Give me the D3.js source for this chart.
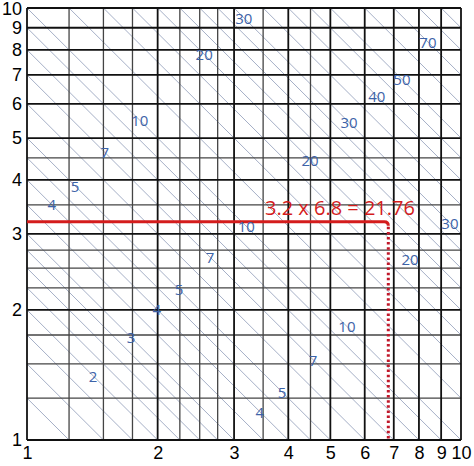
<!DOCTYPE html>
<html>
<head>
<meta charset="utf-8">
<script src="https://cdn.jsdelivr.net/npm/d3@7"></script>
<style>
  body { margin: 0; background: #fff; }
  svg { display: block; }
</style>
</head>
<body>
<script>
// log-log multiplication chart: diagonals are lines of constant product x*y
var majorTicks = [1, 2, 3, 4, 5, 6, 7, 8, 9, 10];
var minorTicks = [1.25, 1.5, 1.75, 2.25, 2.5, 2.75, 3.5, 4.5];
var baseProducts = [1.25, 1.5, 1.75, 2, 2.25, 2.5, 2.75, 3, 3.5, 4, 4.5, 5, 6, 7, 8, 9, 10];
var products = baseProducts.concat(baseProducts.map(function (d) { return d * 10; }));

// product labels: value and the x where it sits on its diagonal
var labelValues = [2, 3, 4, 5, 7, 10, 20, 30, 40, 50, 70, 4, 5, 7, 10, 20, 30, 20, 30, 4, 5, 7, 10];
var labelXs = [1.42, 1.736, 1.99, 2.24, 2.64, 3.2, 4.49, 5.52, 6.4, 7.31, 8.39, 1.14, 1.29, 1.51, 1.82, 2.56, 3.16, 7.63, 9.43, 3.44, 3.87, 4.56, 5.46];

var exampleA = 3.2, exampleB = 6.8;
var exampleText = "3.2 x 6.8 = 21.76";

var W = 474, H = 466;
var svg = d3.select("body").append("svg").attr("width", W).attr("height", H);

var x = d3.scaleLog().domain([1, 10]).range([27, 461]);
var y = d3.scaleLog().domain([1, 10]).range([440, 8]);

// diagonals
var diag = svg.append("g");
products.forEach(function (c) {
  var x0 = Math.max(1, c / 10), x1 = Math.min(10, c);
  if (x1 <= x0) return;
  diag.append("line")
    .attr("x1", x(x0)).attr("y1", y(c / x0))
    .attr("x2", x(x1)).attr("y2", y(c / x1))
    .attr("stroke", "#9ba6bf").attr("stroke-width", 0.9);
});

// grid
var grid = svg.append("g");
minorTicks.forEach(function (t) {
  grid.append("line").attr("x1", x(t)).attr("x2", x(t)).attr("y1", y(1)).attr("y2", y(10))
    .attr("stroke", "#444").attr("stroke-width", 1.3);
  grid.append("line").attr("y1", y(t)).attr("y2", y(t)).attr("x1", x(1)).attr("x2", x(10))
    .attr("stroke", "#444").attr("stroke-width", 1.3);
});
majorTicks.forEach(function (t) {
  grid.append("line").attr("x1", x(t)).attr("x2", x(t)).attr("y1", y(1)).attr("y2", y(10))
    .attr("stroke", "#111").attr("stroke-width", 1.8);
  grid.append("line").attr("y1", y(t)).attr("y2", y(t)).attr("x1", x(1)).attr("x2", x(10))
    .attr("stroke", "#111").attr("stroke-width", 1.8);
});

// axes (labels only)
var xAxis = svg.append("g").attr("transform", "translate(0," + y(1) + ")")
  .call(d3.axisBottom(x).tickValues(majorTicks).tickSize(0).tickPadding(6).tickFormat(d3.format("d")));
var yAxis = svg.append("g").attr("transform", "translate(" + x(1) + ",0)")
  .call(d3.axisLeft(y).tickValues(majorTicks).tickSize(0).tickPadding(5).tickFormat(d3.format("d")));
[xAxis, yAxis].forEach(function (g) {
  g.select(".domain").remove();
  g.selectAll("text").attr("font-family", "Liberation Sans, Arial, sans-serif")
    .attr("font-size", 18).attr("fill", "#000");
});
// keep the top "10" inside the picture
yAxis.selectAll(".tick").filter(function (d) { return d === 10; })
  .select("text").attr("y", 1);

// worked example
var ex = x(exampleB), ey = y(exampleA);
svg.append("path")
  .attr("d", "M" + x(1) + "," + ey + "H" + (ex - 4) + "Q" + ex + "," + ey + " " + ex + "," + (ey + 4))
  .attr("fill", "none").attr("stroke", "#d41c1c").attr("stroke-width", 3);
svg.append("line")
  .attr("x1", ex).attr("x2", ex).attr("y1", ey + 5).attr("y2", y(1))
  .attr("stroke", "#c0182a").attr("stroke-width", 3).attr("stroke-dasharray", "2.5,2.6");
svg.append("text")
  .attr("x", 265).attr("y", 215)
  .attr("font-family", "Open Sans, sans-serif").attr("font-size", 20)
  .attr("fill", "#d41c1c")
  .text(exampleText);

// product labels
svg.append("g").selectAll("text")
  .data(labelValues.map(function (v, i) { return { v: v, x: labelXs[i] }; }))
  .join("text")
  .attr("x", function (d) { return x(d.x); })
  .attr("y", function (d) { return y(d.v / d.x); })
  .attr("text-anchor", "middle")
  .attr("dominant-baseline", "central")
  .attr("font-family", "Open Sans, sans-serif")
  .attr("font-size", 15)
  .attr("fill", "#3d63a8")
  .text(function (d) { return d.v; });
</script>
</body>
</html>
